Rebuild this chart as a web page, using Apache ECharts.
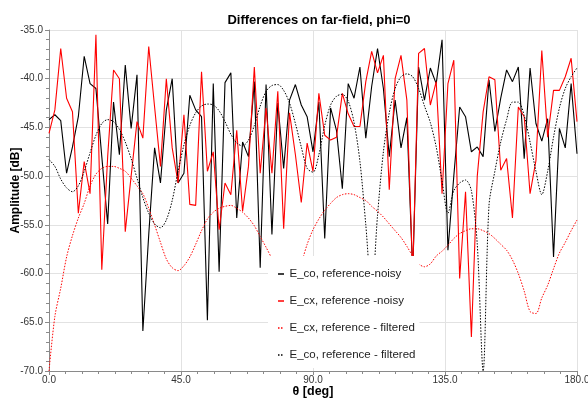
<!DOCTYPE html>
<html>
<head>
<meta charset="utf-8">
<script src="https://cdn.jsdelivr.net/npm/echarts@6/dist/echarts.min.js"></script>
<style>
html,body{margin:0;padding:0;background:#fff;}
#c{width:588px;height:399px;}
</style>
</head>
<body>
<div id="c"></div>
<script>
const theta = [0,2,4,6,8,10,12,14,16,18,20,22,24,26,28,30,32,34,36,38,40,42,44,46,48,50,52,54,56,58,60,62,64,66,68,70,72,74,76,78,80,82,84,86,88,90,92,94,96,98,100,102,104,106,108,110,112,114,116,118,120,122,124,126,128,130,132,134,136,138,140,142,144,146,148,150,152,154,156,158,160,162,164,166,168,170,172,174,176,178,180];

const eCoNoisy = [-44.2,-43.7,-44.3,-49.7,-47.0,-43.9,-37.7,-40.5,-41.0,-48.0,-54.9,-42.4,-47.8,-38.6,-45.1,-39.6,-65.9,-56.0,-47.1,-50.7,-43.2,-40.0,-50.7,-49.7,-41.7,-43.2,-43.9,-64.8,-40.5,-59.8,-40.4,-39.4,-54.3,-46.5,-48.0,-40.3,-59.4,-40.6,-56.0,-42.5,-49.2,-42.2,-40.6,-42.7,-43.9,-47.5,-42.4,-56.4,-43.0,-45.3,-51.3,-40.5,-42.0,-38.8,-46.1,-40.8,-36.9,-41.0,-48.0,-42.2,-47.1,-44.0,-60.0,-38.8,-42.2,-38.9,-40.5,-36.0,-57.6,-50.0,-42.9,-43.9,-47.5,-47.0,-48.0,-40.1,-45.4,-42.0,-39.1,-40.3,-38.8,-48.2,-38.9,-44.6,-46.4,-44.1,-58.3,-45.1,-47.1,-40.5,-47.7];

const eCxNoisy = [-45.6,-43.2,-36.9,-42.0,-43.4,-53.8,-48.5,-51.8,-35.5,-59.6,-48.0,-39.1,-40.0,-55.7,-50.0,-44.4,-46.1,-36.7,-42.9,-49.0,-40.0,-47.1,-50.7,-43.7,-52.9,-53.0,-39.3,-49.5,-47.5,-55.5,-50.7,-51.9,-45.3,-53.6,-49.0,-38.8,-49.7,-43.0,-49.7,-41.3,-55.4,-43.5,-47.8,-52.7,-46.6,-49.5,-41.5,-45.8,-46.3,-46.0,-41.5,-43.6,-44.9,-44.9,-40.3,-37.2,-39.4,-37.6,-51.4,-40.0,-37.6,-42.2,-60.0,-37.4,-36.9,-42.7,-40.3,-51.8,-40.5,-38.1,-60.5,-51.6,-66.5,-50.0,-43.4,-39.8,-40.1,-49.4,-48.2,-54.3,-42.9,-43.9,-51.8,-48.4,-37.1,-46.0,-41.2,-41.2,-39.8,-37.9,-44.4];

const eCxFiltered = [-70.0,-64.4,-61.5,-58.3,-56.1,-54.3,-52.8,-51.0,-49.8,-49.2,-49.0,-49.0,-49.2,-49.5,-50.2,-51.0,-51.8,-53.3,-55.0,-56.8,-58.5,-59.4,-59.7,-59.2,-58.3,-57.0,-55.6,-54.4,-53.7,-53.3,-53.1,-53.0,-53.3,-53.7,-54.3,-55.1,-56.2,-57.3,-58.5,-60.0,-61.5,-62.0,-61.0,-59.0,-57.0,-55.5,-54.4,-53.5,-52.8,-52.2,-51.9,-51.8,-51.9,-52.2,-52.5,-53.1,-53.6,-54.2,-54.9,-55.6,-56.3,-57.2,-58.2,-59.0,-59.3,-59.0,-58.2,-57.7,-57.1,-56.4,-55.9,-55.6,-55.4,-55.4,-55.6,-55.9,-56.4,-57.0,-57.6,-58.6,-60.0,-61.8,-63.9,-64.1,-62.5,-61.2,-59.5,-57.9,-56.8,-55.6,-54.5];

const eCoFiltered = [-48.3,-49.0,-50.3,-51.2,-51.6,-51.0,-49.5,-47.6,-45.8,-44.6,-44.2,-44.4,-45.2,-46.5,-48.2,-50.2,-52.2,-53.8,-54.9,-55.3,-54.5,-52.5,-49.5,-46.8,-44.8,-43.5,-42.8,-42.6,-42.7,-43.3,-44.4,-45.7,-46.6,-46.9,-46.3,-44.8,-42.8,-41.3,-40.7,-40.6,-41.2,-42.5,-44.6,-47.0,-49.2,-49.6,-47.8,-44.8,-42.7,-41.8,-41.6,-42.3,-44.5,-48.5,-55.0,-62.0,-54.0,-47.5,-43.5,-41.0,-39.8,-39.5,-39.8,-41.0,-42.8,-44.5,-47.0,-50.5,-53.8,-51.5,-50.7,-50.4,-51.5,-57.0,-70.0,-53.0,-49.5,-46.5,-44.2,-42.4,-42.4,-43.8,-46.5,-49.5,-51.9,-49.5,-46.0,-43.0,-41.0,-39.8,-38.9];

const seriesNames = ['E_co, reference-noisy','E_cx, reference -noisy','E_cx, reference - filtered','E_co, reference - filtered'];
const xTicks = [0,45,90,135,180];
const yTicks = [-70,-65,-60,-55,-50,-45,-40,-35];

function pairs(ys){ return theta.map((t,i)=>[t,ys[i]]); }

const FONT = 'Liberation Sans, Arial, sans-serif';
const SOLID_ICON = 'path://M0,0h8v2h-8z';
const DOT_ICON = 'path://M0,0h2v2h-2z M4,0h2v2h-2z M8,0h0.01v2h-0.01z';
const chart = echarts.init(document.getElementById('c'), null, {renderer:'canvas'});
const option = {
  animation: false,
  backgroundColor: '#fff',
  title: {
    text: 'Differences on far-field, phi=0',
    left: 314, top: 9, textAlign: 'center',
    textStyle: {fontFamily: FONT, fontSize: 13, fontWeight: 'bold', color: '#000'}
  },
  grid: {left: 49, right: 11, top: 30, bottom: 28, containLabel: false, outerBoundsMode: 'none'},
  xAxis: {
    type: 'value', min: xTicks[0], max: xTicks[xTicks.length-1], interval: 45,
    name: 'θ [deg]', nameLocation: 'middle', nameGap: 14, nameMoveOverlap: false,
    nameTextStyle: {fontFamily: FONT, fontSize: 12.5, fontWeight: 'bold', color: '#000'},
    axisLine: {show: true, onZero: false, lineStyle: {color: '#8a8a8a', width: 1}},
    axisTick: {show: true, length: 4, lineStyle: {color: '#8a8a8a'}},
    minorTick: {show: true, splitNumber: 8, length: 3, lineStyle: {color: '#8a8a8a'}},
    axisLabel: {fontFamily: FONT, fontSize: 10, color: '#333', margin: 4, formatter: v => v.toFixed(1)},
    splitLine: {show: true, lineStyle: {color: '#e2e2e2', width: 1}}
  },
  yAxis: {
    type: 'value', min: yTicks[0], max: yTicks[yTicks.length-1], interval: 5,
    name: 'Amplitude [dB]', nameLocation: 'middle', nameGap: 27, nameMoveOverlap: false,
    nameTextStyle: {fontFamily: FONT, fontSize: 12, fontWeight: 'bold', color: '#000', padding: [0, 0, 0, 20]},
    axisLine: {show: true, lineStyle: {color: '#8a8a8a', width: 1}},
    axisTick: {show: true, length: 4, lineStyle: {color: '#8a8a8a'}},
    minorTick: {show: true, splitNumber: 5, length: 3, lineStyle: {color: '#8a8a8a'}},
    axisLabel: {fontFamily: FONT, fontSize: 10, color: '#333', margin: 6, formatter: v => v.toFixed(1)},
    splitLine: {show: true, lineStyle: {color: '#e2e2e2', width: 1}}
  },
  legend: {
    orient: 'vertical', left: 268, top: 256,
    backgroundColor: '#fff', padding: [11, 4, 6, 10],
    itemWidth: 7, itemHeight: 1.5, itemGap: 13,
    textStyle: {fontFamily: FONT, fontSize: 11.5, lineHeight: 14, color: '#222'},
    data: [
      {name: seriesNames[0], icon: SOLID_ICON},
      {name: seriesNames[1], icon: SOLID_ICON},
      {name: seriesNames[2], icon: DOT_ICON},
      {name: seriesNames[3], icon: DOT_ICON}
    ]
  },
  series: [
    {name: seriesNames[0], type: 'line', data: pairs(eCoNoisy), symbol: 'none', clip: true,
     lineStyle: {color: '#000', width: 1.1}, itemStyle: {color: '#000'}},
    {name: seriesNames[1], type: 'line', data: pairs(eCxNoisy), symbol: 'none', clip: true,
     lineStyle: {color: '#ff0000', width: 1.1}, itemStyle: {color: '#ff0000'}},
    {name: seriesNames[2], type: 'line', data: pairs(eCxFiltered), symbol: 'none', clip: true, smooth: 0.3,
     lineStyle: {color: '#ff0000', width: 1, type: [1.5, 1.5]}, itemStyle: {color: '#ff0000'}},
    {name: seriesNames[3], type: 'line', data: pairs(eCoFiltered), symbol: 'none', clip: true, smooth: 0.3,
     lineStyle: {color: '#000', width: 1, type: [1.5, 1.5]}, itemStyle: {color: '#000'}}
  ]
};
chart.setOption(option);
</script>
</body>
</html>
